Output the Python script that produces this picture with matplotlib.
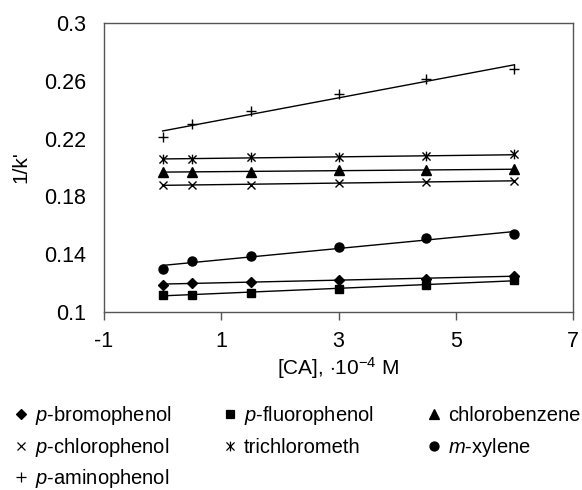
import numpy as np
import matplotlib
matplotlib.use("Agg")
import matplotlib.pyplot as plt
from matplotlib.path import Path
from matplotlib.lines import Line2D

plt.rcParams['font.family'] = ['Liberation Sans', 'DejaVu Sans']
plt.rcParams['mathtext.fontset'] = 'custom'
plt.rcParams['mathtext.rm'] = 'Liberation Sans'
plt.rcParams['mathtext.it'] = 'Liberation Sans:italic'

# concentracao de CA (x 10^-4 M)
ca = [0, 0.5, 1.5, 3, 4.5, 6]

p_bromofenol = [0.119, 0.120, 0.121, 0.122, 0.123, 0.125]
p_fluorofenol = [0.112, 0.112, 0.113, 0.116, 0.119, 0.122]
clorobenzeno = [0.197, 0.197, 0.197, 0.198, 0.198, 0.199]
p_clorofenol = [0.188, 0.188, 0.188, 0.189, 0.190, 0.191]
tricloro = [0.206, 0.206, 0.207, 0.207, 0.208, 0.209]
m_xileno = [0.130, 0.135, 0.139, 0.145, 0.151, 0.154]
p_aminofenol = [0.221, 0.230, 0.239, 0.251, 0.261, 0.268]

# asterisco estilo excel: x com traco vertical
asterisco = Path([(-1, -1), (1, 1), (-1, 1), (1, -1), (0, -1.2), (0, 1.2)],
                 [Path.MOVETO, Path.LINETO, Path.MOVETO, Path.LINETO,
                  Path.MOVETO, Path.LINETO])

# (nome, dados, marcador, tamanho, linha e coluna da legenda)
series = [
    ("$\\it{p}$-bromophenol", p_bromofenol, "D", 5.5, 0, 0),
    ("$\\it{p}$-fluorophenol", p_fluorofenol, "s", 6, 0, 1),
    ("chlorobenzene", clorobenzeno, "^", 7, 0, 2),
    ("$\\it{p}$-chlorophenol", p_clorofenol, "x", 6, 1, 0),
    ("trichlorometh", tricloro, asterisco, 7, 1, 1),
    ("$\\it{m}$-xylene", m_xileno, "o", 6.5, 1, 2),
    ("$\\it{p}$-aminophenol", p_aminofenol, "+", 7.5, 2, 0),
]

W, H = 582, 490
fig = plt.figure(figsize=(W / 100, H / 100), dpi=100)
ax = fig.add_axes([104 / W, 1 - 312 / H, 469 / W, 289 / H])

x = np.array(ca)
col_x = [21, 230, 434]
row_y = [414, 446, 477]
for nome, y, mk, ms, lin, col in series:
    # linha de tendencia
    a, b = np.polyfit(x, y, 1)
    ax.plot(x, a * x + b, color="black", lw=1.0)
    ax.plot(x, y, linestyle="none", marker=mk, ms=ms, color="black",
            mec="black", mew=1.0)
    # legenda manual
    mx = col_x[col] / W
    my = 1 - row_y[lin] / H
    fig.add_artist(Line2D([mx], [my], transform=fig.transFigure,
                          linestyle="none", marker=mk, ms=ms,
                          color="black", mec="black", mew=0.9))
    fig.text(mx + 14 / W, 1 - (row_y[lin] + 7) / H, nome, fontsize=14.5,
             ha="left", va="baseline")

ax.set_xlim(-1, 7)
ax.set_ylim(0.1, 0.3)
ax.set_xticks([-1, 1, 3, 5, 7])
ax.set_xticklabels(["-1", "1", "3", "5", "7"])
ax.set_yticks([0.1, 0.14, 0.18, 0.22, 0.26, 0.3])
ax.set_yticklabels(["0.1", "0.14", "0.18", "0.22", "0.26", "0.3"])
ax.tick_params(axis="x", direction="out", length=6, width=1, color="#555555",
               labelsize=15.5, pad=8)
ax.tick_params(axis="y", length=0, labelsize=15.5, pad=13)
for s in ax.spines.values():
    s.set_color("#555555")
    s.set_linewidth(1.0)

ax.set_xlabel("[CA], $\\cdot$10$^{-4}$ M", fontsize=15, labelpad=2)
ax.set_ylabel("1/k'", fontsize=15, labelpad=10)

fig.savefig("out.png", dpi=100)
